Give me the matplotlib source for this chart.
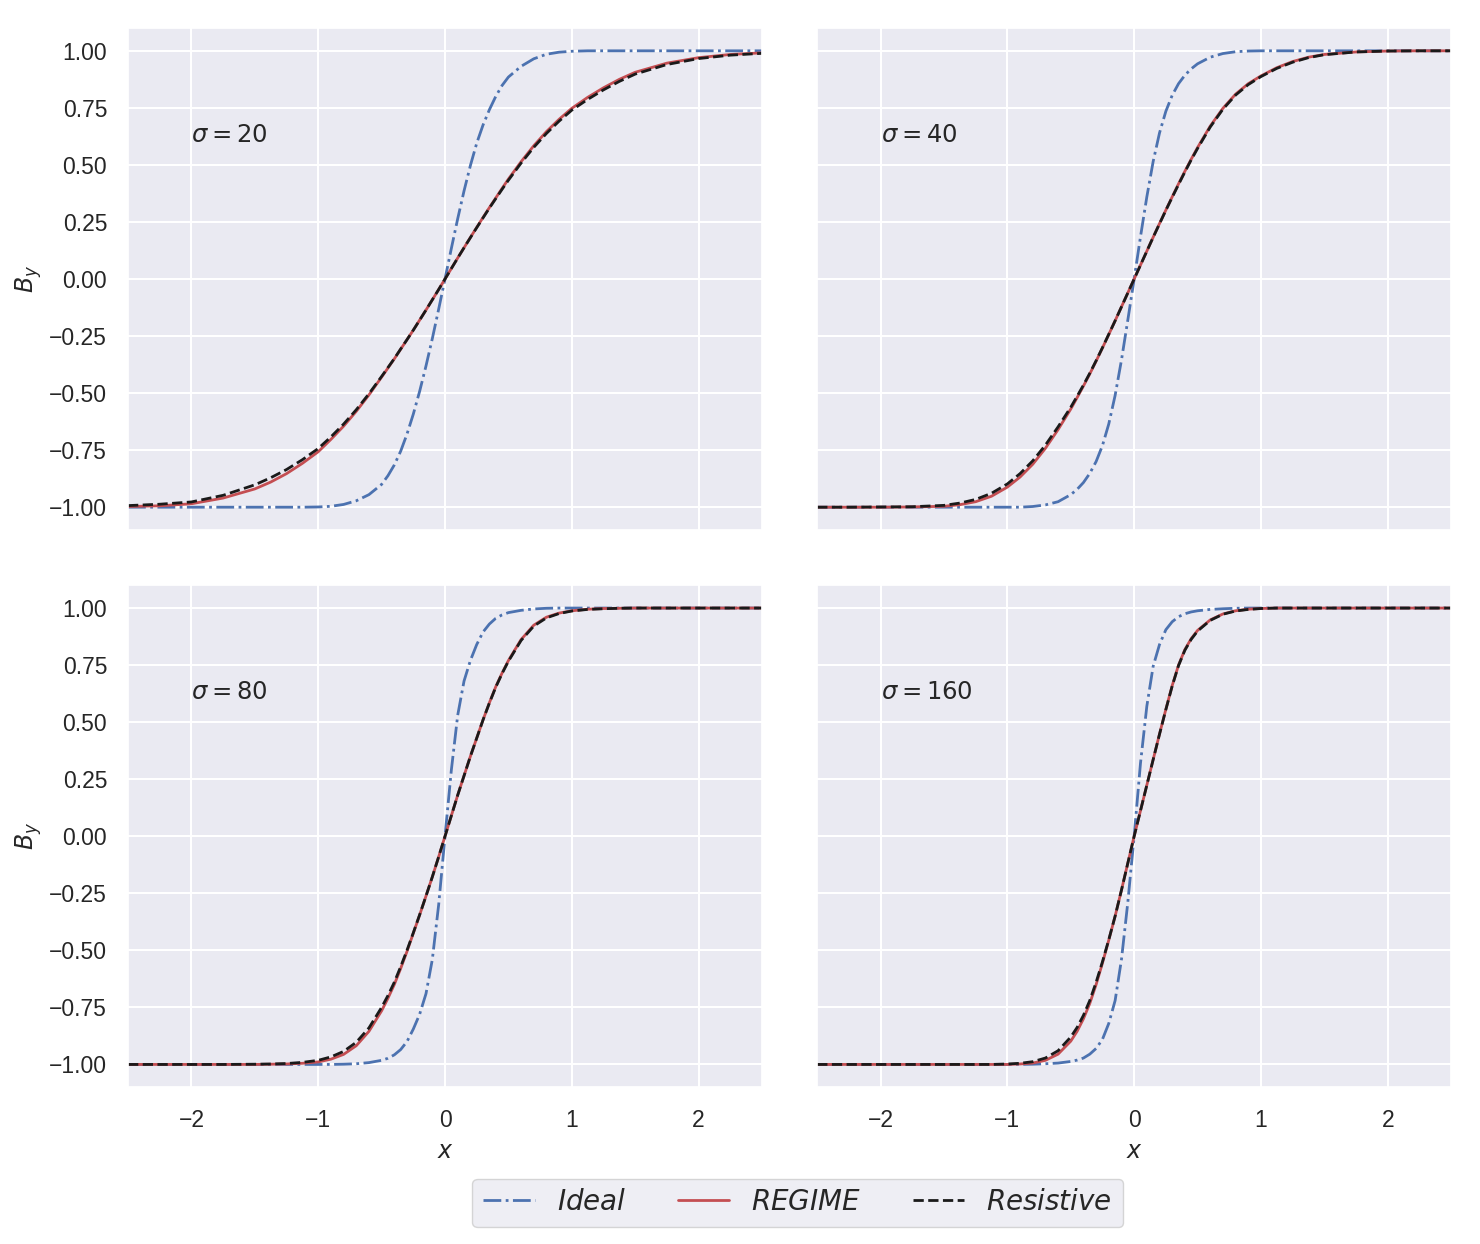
import matplotlib
matplotlib.use("Agg")
import matplotlib.pyplot as plt
import seaborn as sns

# sample positions shared by every curve (finer near the centre)
X = [-2.5, -2.25, -2.0, -1.75, -1.5, -1.375, -1.25, -1.125, -1.0, -0.9, -0.8, -0.7, -0.6,
     -0.5, -0.45, -0.4, -0.35, -0.3, -0.25, -0.2, -0.15, -0.1, -0.05, 0.0,
     0.05, 0.1, 0.15, 0.2, 0.25, 0.3, 0.35, 0.4, 0.45, 0.5,
     0.6, 0.7, 0.8, 0.9, 1.0, 1.125, 1.25, 1.375, 1.5, 1.75, 2.0, 2.25, 2.5]

SIGMAS = [20, 40, 80, 160]

# sigma = 20
IDEAL_20 = [-1.0, -1.0, -1.0, -1.0, -1.0, -1.0, -1.0, -1.0, -0.999, -0.996, -0.988, -0.972, -0.945,
            -0.900, -0.862, -0.815, -0.755, -0.680, -0.592, -0.492, -0.381, -0.261, -0.132, 0.0,
            0.134, 0.264, 0.386, 0.497, 0.595, 0.675, 0.742, 0.800, 0.848, 0.885,
            0.932, 0.965, 0.985, 0.994, 0.998, 1.0, 1.0, 1.0, 1.0, 1.0, 1.0, 1.0, 1.0]
REGIME_20 = [-0.997, -0.994, -0.985, -0.960, -0.920, -0.890, -0.853, -0.808, -0.757, -0.703, -0.645, -0.580, -0.508,
             -0.430, -0.390, -0.350, -0.308, -0.266, -0.224, -0.180, -0.136, -0.091, -0.046, 0.0,
             0.046, 0.092, 0.137, 0.182, 0.226, 0.270, 0.313, 0.355, 0.397, 0.438,
             0.514, 0.584, 0.646, 0.700, 0.748, 0.796, 0.838, 0.875, 0.906, 0.946, 0.970, 0.984, 0.991]
RESISTIVE_20 = [-0.993, -0.987, -0.977, -0.948, -0.902, -0.871, -0.835, -0.792, -0.743, -0.692, -0.636, -0.573, -0.503,
                -0.427, -0.388, -0.349, -0.307, -0.266, -0.224, -0.180, -0.136, -0.091, -0.046, 0.0,
                0.046, 0.092, 0.137, 0.181, 0.225, 0.268, 0.311, 0.352, 0.393, 0.433,
                0.508, 0.577, 0.638, 0.692, 0.740, 0.787, 0.829, 0.866, 0.898, 0.940, 0.966, 0.981, 0.989]

# sigma = 40
IDEAL_40 = [-1.0, -1.0, -1.0, -1.0, -1.0, -1.0, -1.0, -1.0, -1.0, -1.0, -0.997, -0.990, -0.976,
            -0.945, -0.922, -0.892, -0.852, -0.800, -0.730, -0.635, -0.510, -0.355, -0.180, 0.0,
            0.185, 0.360, 0.515, 0.640, 0.735, 0.805, 0.856, 0.893, 0.921, 0.943,
            0.972, 0.988, 0.996, 0.999, 1.0, 1.0, 1.0, 1.0, 1.0, 1.0, 1.0, 1.0, 1.0]
REGIME_40 = [-1.0, -1.0, -1.0, -0.999, -0.996, -0.989, -0.976, -0.952, -0.912, -0.868, -0.812, -0.742, -0.660,
             -0.570, -0.520, -0.469, -0.416, -0.360, -0.302, -0.243, -0.183, -0.122, -0.061, 0.0,
             0.061, 0.122, 0.183, 0.243, 0.302, 0.360, 0.417, 0.472, 0.525, 0.576,
             0.670, 0.748, 0.810, 0.856, 0.890, 0.926, 0.953, 0.972, 0.984, 0.995, 0.999, 1.0, 1.0]
RESISTIVE_40 = [-1.0, -1.0, -0.999, -0.998, -0.992, -0.982, -0.966, -0.939, -0.898, -0.853, -0.797, -0.728, -0.648,
                -0.562, -0.514, -0.465, -0.413, -0.358, -0.301, -0.242, -0.183, -0.122, -0.061, 0.0,
                0.061, 0.122, 0.183, 0.242, 0.301, 0.358, 0.414, 0.469, 0.522, 0.572,
                0.666, 0.744, 0.806, 0.852, 0.887, 0.923, 0.950, 0.970, 0.983, 0.995, 0.999, 1.0, 1.0]

# sigma = 80
IDEAL_80 = [-1.0, -1.0, -1.0, -1.0, -1.0, -1.0, -1.0, -1.0, -1.0, -1.0, -0.999, -0.997, -0.992,
            -0.982, -0.973, -0.958, -0.935, -0.900, -0.845, -0.780, -0.690, -0.540, -0.300, 0.0,
            0.290, 0.530, 0.680, 0.770, 0.840, 0.895, 0.930, 0.955, 0.970, 0.980,
            0.990, 0.996, 0.999, 1.0, 1.0, 1.0, 1.0, 1.0, 1.0, 1.0, 1.0, 1.0, 1.0]
REGIME_80 = [-1.0, -1.0, -1.0, -1.0, -1.0, -0.999, -0.998, -0.995, -0.989, -0.977, -0.956, -0.918, -0.855,
             -0.765, -0.710, -0.650, -0.580, -0.505, -0.425, -0.345, -0.262, -0.178, -0.090, 0.0,
             0.090, 0.180, 0.265, 0.350, 0.430, 0.510, 0.585, 0.655, 0.715, 0.770,
             0.862, 0.925, 0.960, 0.978, 0.988, 0.995, 0.998, 0.999, 1.0, 1.0, 1.0, 1.0, 1.0]
RESISTIVE_80 = [-1.0, -1.0, -1.0, -1.0, -0.999, -0.998, -0.996, -0.991, -0.982, -0.967, -0.943, -0.903, -0.840,
                -0.750, -0.698, -0.640, -0.572, -0.500, -0.423, -0.344, -0.262, -0.178, -0.090, 0.0,
                0.090, 0.180, 0.265, 0.350, 0.430, 0.510, 0.584, 0.653, 0.713, 0.767,
                0.858, 0.921, 0.957, 0.976, 0.987, 0.994, 0.997, 0.999, 1.0, 1.0, 1.0, 1.0, 1.0]

# sigma = 160
IDEAL_160 = [-1.0, -1.0, -1.0, -1.0, -1.0, -1.0, -1.0, -1.0, -1.0, -1.0, -0.999, -0.997, -0.994,
             -0.987, -0.981, -0.972, -0.955, -0.930, -0.890, -0.820, -0.720, -0.540, -0.290, 0.0,
             0.320, 0.570, 0.745, 0.840, 0.905, 0.940, 0.962, 0.975, 0.983, 0.988,
             0.994, 0.997, 0.999, 1.0, 1.0, 1.0, 1.0, 1.0, 1.0, 1.0, 1.0, 1.0, 1.0]
REGIME_160 = [-1.0, -1.0, -1.0, -1.0, -1.0, -1.0, -1.0, -1.0, -1.0, -0.998, -0.994, -0.982, -0.955,
              -0.898, -0.855, -0.800, -0.733, -0.650, -0.556, -0.455, -0.350, -0.236, -0.118, 0.0,
              0.112, 0.224, 0.336, 0.448, 0.556, 0.660, 0.750, 0.818, 0.866, 0.902,
              0.948, 0.974, 0.988, 0.995, 0.998, 1.0, 1.0, 1.0, 1.0, 1.0, 1.0, 1.0, 1.0]
RESISTIVE_160 = [-1.0, -1.0, -1.0, -1.0, -1.0, -1.0, -1.0, -1.0, -0.998, -0.995, -0.988, -0.972, -0.940,
                 -0.880, -0.838, -0.785, -0.720, -0.640, -0.550, -0.453, -0.350, -0.236, -0.118, 0.0,
                 0.112, 0.224, 0.336, 0.447, 0.555, 0.658, 0.748, 0.815, 0.863, 0.899,
                 0.946, 0.973, 0.987, 0.994, 0.998, 1.0, 1.0, 1.0, 1.0, 1.0, 1.0, 1.0, 1.0]

IDEAL = [IDEAL_20, IDEAL_40, IDEAL_80, IDEAL_160]
REGIME = [REGIME_20, REGIME_40, REGIME_80, REGIME_160]
RESISTIVE = [RESISTIVE_20, RESISTIVE_40, RESISTIVE_80, RESISTIVE_160]

for series in IDEAL + REGIME + RESISTIVE:
    assert len(series) == len(X)

sns.set_theme(style="darkgrid")
plt.rcParams["font.family"] = ["Liberation Sans", "DejaVu Sans"]
plt.rcParams["mathtext.fontset"] = "dejavusans"
plt.rcParams["xtick.labelsize"] = 16.5
plt.rcParams["ytick.labelsize"] = 16.5
plt.rcParams["xtick.major.size"] = 6
plt.rcParams["ytick.major.size"] = 6
plt.rcParams["xtick.major.pad"] = 10
plt.rcParams["ytick.major.pad"] = 9
plt.rcParams["grid.linewidth"] = 1.5

fig, axes = plt.subplots(2, 2, figsize=(14.8, 12.44), dpi=100, sharex=True, sharey=True)
fig.subplots_adjust(left=0.0865, right=0.9805, top=0.9775, bottom=0.126,
                    wspace=0.087, hspace=0.11)

blue, red = "#4C72B0", "#C44E52"
for ax, sigma, ideal, regime, resist in zip(axes.flat, SIGMAS, IDEAL, REGIME, RESISTIVE):
    ax.plot(X, ideal, color=blue, ls="-.", lw=2, label=r"$Ideal$")
    ax.plot(X, regime, color=red, ls="-", lw=2, label=r"$REGIME$")
    ax.plot(X, resist, color="k", ls="--", lw=2, label=r"$Resistive$")
    ax.text(-2, 0.6, rf"$\sigma = {sigma}$", fontsize=17.5, color="#262626")
    ax.set_xlim(-2.5, 2.5)
    ax.set_yticks([-1.0, -0.75, -0.5, -0.25, 0.0, 0.25, 0.5, 0.75, 1.0])

for ax in axes[:, 0]:
    ax.set_ylabel(r"$B_y$", fontsize=17, labelpad=4)
for ax in axes[1, :]:
    ax.set_xlabel(r"$x$", fontsize=17, labelpad=6)

handles, labels = axes[0, 0].get_legend_handles_labels()
fig.legend(handles, labels, loc="center", bbox_to_anchor=(0.539, 0.033), ncol=3,
           fontsize=20, frameon=True, columnspacing=1.85, handlelength=1.85)

plt.savefig("out.png", dpi=100)
